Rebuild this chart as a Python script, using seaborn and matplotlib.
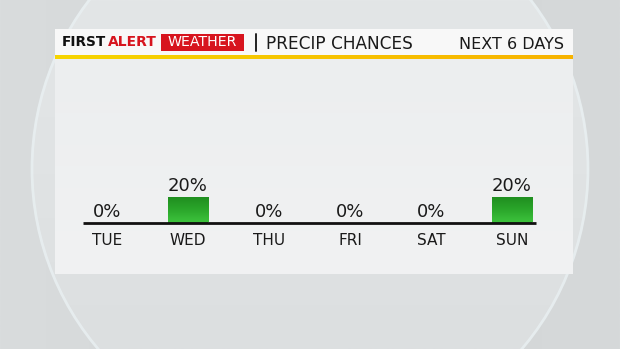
import numpy as np
import matplotlib
matplotlib.use("Agg")
import matplotlib.pyplot as plt
from matplotlib.patches import Circle, Rectangle
from matplotlib.colors import LinearSegmentedColormap
import seaborn as sns
import pandas as pd

# ---- data ----
days = ["TUE", "WED", "THU", "FRI", "SAT", "SUN"]
precip = [0, 20, 0, 0, 0, 20]
brand = ["FIRST", "ALERT", "WEATHER"]
title_main = "PRECIP CHANCES"
title_right = "NEXT 6 DAYS"

sns.set_theme(style="white")
FONT = ["DejaVu Sans"]
plt.rcParams["font.family"] = FONT

W, H = 620, 349
fig = plt.figure(figsize=(W / 100, H / 100), dpi=100)
fig.patch.set_facecolor("#d4d7d8")

# ---- background layer in pixel coordinates ----
bg = fig.add_axes([0, 0, 1, 1], zorder=0)
bg.set_xlim(0, W)
bg.set_ylim(H, 0)
bg.axis("off")

outer = np.linspace(0, 1, 256).reshape(1, -1)
bg.imshow(outer, extent=[0, W, H, 0], aspect="auto",
          cmap=LinearSegmentedColormap.from_list("o", ["#d9dcdd", "#d2d5d6", "#d6d9da"]),
          zorder=0)
disc = Circle((310, 169), 279, facecolor="none", edgecolor="none", zorder=1)
bg.add_patch(disc)
inner = np.linspace(0, 1, 256).reshape(-1, 1)
im = bg.imshow(inner, extent=[0, W, H, 0], aspect="auto",
               cmap=LinearSegmentedColormap.from_list("i", ["#e3e6e7", "#e0e3e4", "#dcdfe0"]),
               zorder=1)
im.set_clip_path(disc)
bg.add_patch(Circle((310, 169), 278, facecolor="none", edgecolor="#e9f0f2",
                    linewidth=2.0, alpha=0.8, zorder=2))

# panel
panel_x0, panel_x1, panel_y0, panel_y1 = 55, 573, 59, 274
pg = np.linspace(0, 1, 256).reshape(-1, 1)
bg.imshow(pg, extent=[panel_x0, panel_x1, panel_y1, panel_y0], aspect="auto",
          cmap=LinearSegmentedColormap.from_list("p", ["#eceeef", "#f1f2f3"]), zorder=3)
bg.add_patch(Rectangle((55, 29), 518, 27.5, facecolor="#f8f8f8", edgecolor="none", zorder=4))
yg = np.linspace(0, 1, 256).reshape(1, -1)
bg.imshow(yg, extent=[55, 573, 59.5, 55.5], aspect="auto",
          cmap=LinearSegmentedColormap.from_list("y", ["#f6d500", "#f7c400", "#f7b300"]),
          zorder=5)

# header texts
tb = 46.5
bg.text(62, tb, brand[0], fontsize=9.8, fontweight="heavy", color="#111111",
        va="baseline", ha="left", zorder=6)
bg.text(108, tb, brand[1], fontsize=10.0, fontweight="bold", color="#d7141e",
        va="baseline", ha="left", zorder=6)
bg.add_patch(Rectangle((161, 34), 83, 16.5, facecolor="#d7141e", edgecolor="none", zorder=6))
bg.text(202.5, tb, brand[2], fontsize=10.2, color="white",
        va="baseline", ha="center", zorder=7)
bg.plot([256, 256], [34, 51], color="#222222", lw=1.4, zorder=6)
bg.text(266, 49, title_main, fontsize=12.2, color="#1a1a1a",
        va="baseline", ha="left", zorder=6)
bg.text(564, 49, title_right, fontsize=11.5, color="#1a1a1a",
        va="baseline", ha="right", zorder=6)

# ---- chart axes aligned to panel ----
ax = fig.add_axes([panel_x0 / W, 1 - panel_y1 / H,
                   (panel_x1 - panel_x0) / W, (panel_y1 - panel_y0) / H], zorder=2)
ax.patch.set_alpha(0)
x_c0, x_step = 107, 81
y_zero, px_per = 222.5, 1.3

df = pd.DataFrame({"day": days, "precip": precip})
sns.barplot(data=df, x="day", y="precip", color="#2aa52a", width=0.5,
            saturation=1, ax=ax, zorder=2)
gcmap = LinearSegmentedColormap.from_list("g", ["#3cc23c", "#2aa52a", "#1f8d1f"])
for p in ax.patches:
    p.set_edgecolor("none")
    if p.get_height() > 0:
        x0, w, h = p.get_x(), p.get_width(), p.get_height()
        gi = ax.imshow(np.linspace(0, 1, 64).reshape(-1, 1), extent=[x0, x0 + w, 0, h],
                       origin="lower", aspect="auto", cmap=gcmap, zorder=3)
        gi.set_clip_path(p)

ax.hlines(0, -0.3, len(days) - 1 + 0.3, color="#111111", lw=2.0, zorder=4)

for i, (d, v) in enumerate(zip(days, precip)):
    ax.text(i, v + 4, f"{v}%", ha="center", va="baseline", fontsize=13,
            color="#1a1a1a", zorder=5)
    ax.text(i, -17.5, d, ha="center", va="baseline", fontsize=11,
            color="#1a1a1a", zorder=5)

ax.set_xlabel("")
ax.set_ylabel("")
ax.set_xticks([])
ax.set_yticks([])
for s in ax.spines.values():
    s.set_visible(False)

ax.set_xlim((panel_x0 - x_c0) / x_step, (panel_x1 - x_c0) / x_step)
ax.set_ylim(-(panel_y1 - y_zero) / px_per, (y_zero - panel_y0) / px_per)

fig.savefig("out.png", dpi=100, facecolor=fig.get_facecolor())
